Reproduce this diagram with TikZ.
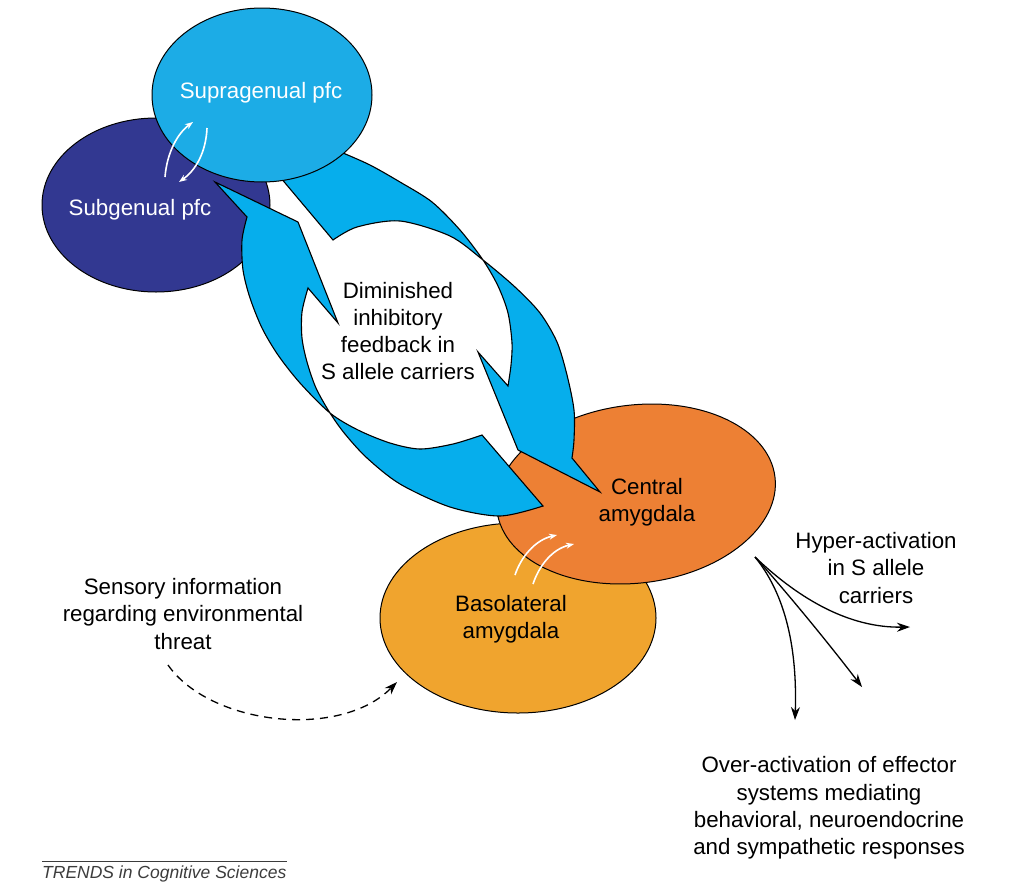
\documentclass[tikz,border=0pt]{standalone}
\usepackage{fontspec}
\setmainfont{Liberation Sans}
\usetikzlibrary{shapes.geometric,arrows.meta}
\definecolor{subblue}{RGB}{50,56,145}
\definecolor{supblue}{RGB}{28,172,230}
\definecolor{fbblue}{RGB}{6,174,236}
\definecolor{centorange}{RGB}{237,128,52}
\definecolor{basorange}{RGB}{240,164,46}
\definecolor{trendgray}{RGB}{60,60,60}
\tikzset{
  region/.style={ellipse, draw=black, line width=1pt, inner sep=0pt},
  lbl/.style={font=\fontsize{22.3}{27.2}\selectfont, align=center, inner sep=0pt},
  wlbl/.style={lbl, text=white},
  feedback/.style={fill=fbblue, draw=black, line width=1.1pt, line join=miter},
  warrow/.style={white, line width=1.6pt, -{Stealth[length=8pt,width=6pt]}},
  barrow/.style={black, line width=1.3pt, -{Stealth[length=13pt,width=9pt]}},
  darrow/.style={black, line width=1.3pt, dash pattern=on 8pt off 6pt, -{Stealth[length=13pt,width=9pt]}},
}
\begin{document}
\begin{tikzpicture}[x=1pt,y=-1pt]
\useasboundingbox (0,0) rectangle (1024,894);
\fill[white] (0,0) rectangle (1024,894);

% regions
\node[region, fill=subblue, minimum width=228pt, minimum height=174pt] (sub) at (156,205) {};
\node[region, fill=basorange, minimum width=276pt, minimum height=190pt] (bas) at (518,618) {};
\node[region, fill=centorange, rotate=7, minimum width=280pt, minimum height=178pt] (cent) at (636,494) {};

% feedback arrows
\path[feedback] (215,182) -- (298,222) -- (338,323) -- (308,288)
  -- plot[smooth] coordinates {(308,288) (302,312) (302,338) (307,362) (316,388) (330,413) (345,434) (367,458) (400,484) (450,507) (500,516) (543,506)}
  -- (482,435)
  -- plot[smooth] coordinates {(482,435) (453,444) (420,449) (390,443) (358,430) (330,413) (300,383) (278,355) (262,328) (250,298) (243,270) (242,240) (247,217)}
  -- cycle;
\path[feedback] (275,171) -- (333,240)
  -- plot[smooth] coordinates {(333,240) (357,227) (400,221) (450,236) (483,260) (515,287) (540,313) (557,342) (567,375) (574,410) (574,440) (572,458)}
  -- (600,492) -- (518,450) -- (478,352) -- (508,386)
  -- plot[smooth] coordinates {(508,386) (511,365) (512,343) (508,313) (498,286) (483,260) (460,230) (432,202) (400,182) (370,165) (343,153)}
  -- (330,130) -- cycle;

\node[region, fill=supblue, minimum width=220pt, minimum height=174pt] (sup) at (262,95) {};

% labels
\node[wlbl] (suplbl) at (261,93) {Supragenual pfc};
\node[wlbl] (sublbl) at (140,210) {Subgenual pfc};
\node[lbl] (fb) at (398,331) {Diminished\\inhibitory\\feedback in\\S allele carriers};
\node[lbl] (centlbl) at (647,502) {Central\\amygdala};
\node[lbl] (baslbl) at (511,619) {Basolateral\\amygdala};
\node[lbl] (hyper) at (876,568) {Hyper-activation\\in S allele\\carriers};
\node[lbl] (sens) at (183,614) {Sensory information\\regarding environmental\\threat};
\node[lbl] (over) at (829,808) {Over-activation of effector\\systems mediating\\behavioral, neuroendocrine\\and sympathetic responses};
\node[inner sep=0pt, anchor=west, text=trendgray, font=\fontsize{17.5}{20}\selectfont\itshape] (trends) at (42,874) {TRENDS in Cognitive Sciences};
\draw[trendgray, line width=0.6pt] (trends.north west) ++(0,-4) coordinate (tl) -- (tl -| trends.north east);

% white interaction arrows
\coordinate (w1s) at (165,177); \coordinate (w1e) at (193,122);
\coordinate (w2s) at (207,128); \coordinate (w2e) at (179,182);
\draw[warrow] (w1s) .. controls (167,152) and (178,133) .. (w1e);
\draw[warrow] (w2s) .. controls (206,152) and (196,170) .. (w2e);
\coordinate (a1s) at (515,575); \coordinate (a1e) at (557,535);
\coordinate (a2s) at (533,584); \coordinate (a2e) at (574,544);
\draw[warrow] (a1s) .. controls (521,557) and (535,540) .. (a1e);
\draw[warrow] (a2s) .. controls (539,566) and (552,549) .. (a2e);

% output arrows
\coordinate (hyp) at (755,557);
\coordinate (o1) at (910,627);
\coordinate (o2) at (862,687);
\coordinate (o3) at (795,720);
\draw[barrow] (hyp) .. controls (800,600) and (850,628) .. (o1);
\draw[barrow] (hyp) .. controls (785,590) and (830,645) .. (o2);
\draw[barrow] (hyp) .. controls (790,600) and (797,660) .. (o3);

% sensory input
\coordinate (sin) at (168,665);
\coordinate (bin) at (397,682);
\draw[darrow] (sin) .. controls (210,725) and (340,740) .. (bin);
\end{tikzpicture}
\end{document}
